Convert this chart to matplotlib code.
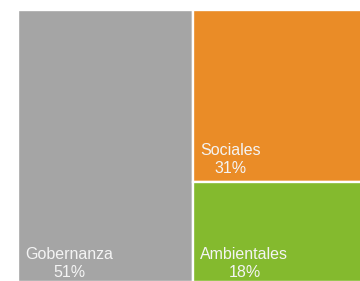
import matplotlib.pyplot as plt
from matplotlib.patches import Rectangle

labels = ['Gobernanza', 'Sociales', 'Ambientales']
shares = [51, 31, 18]
colors = ['#A5A5A5', '#EA8C27', '#84BA2E']

plt.rcParams['font.family'] = ['Liberation Sans', 'DejaVu Sans']

fig = plt.figure(figsize=(3.6, 2.81), dpi=100)
ax = fig.add_axes([0, 0, 1, 1])
ax.set_xlim(0, 360)
ax.set_ylim(281, 0)
ax.axis('off')

# plot area of the treemap (pixel units)
x0, y0, x1, y1 = 18, 10, 362, 282
total = sum(shares)

# first block takes a vertical slice, the rest are stacked on the right
w_first = (x1 - x0) * shares[0] / total
rects = [(x0, y0, w_first, y1 - y0)]
rest = sum(shares[1:])
yy = y0
for s in shares[1:]:
    h = (y1 - y0) * s / rest
    rects.append((x0 + w_first, yy, x1 - x0 - w_first, h))
    yy += h

# va='baseline' on two lines -> last line's baseline
lift = [5, 9, 5]
for (x, y, w, h), lab, s, c, d in zip(rects, labels, shares, colors, lift):
    ax.add_patch(Rectangle((x, y), w, h, facecolor=c, edgecolor='white', linewidth=1.7))
    ax.text(x + 7, y + h - d, f'{lab}\n{s}%', ha='left', va='baseline',
            multialignment='center', color='#F4F4F4', fontsize=11.5,
            linespacing=1.25)

plt.savefig('out.png', dpi=100)
